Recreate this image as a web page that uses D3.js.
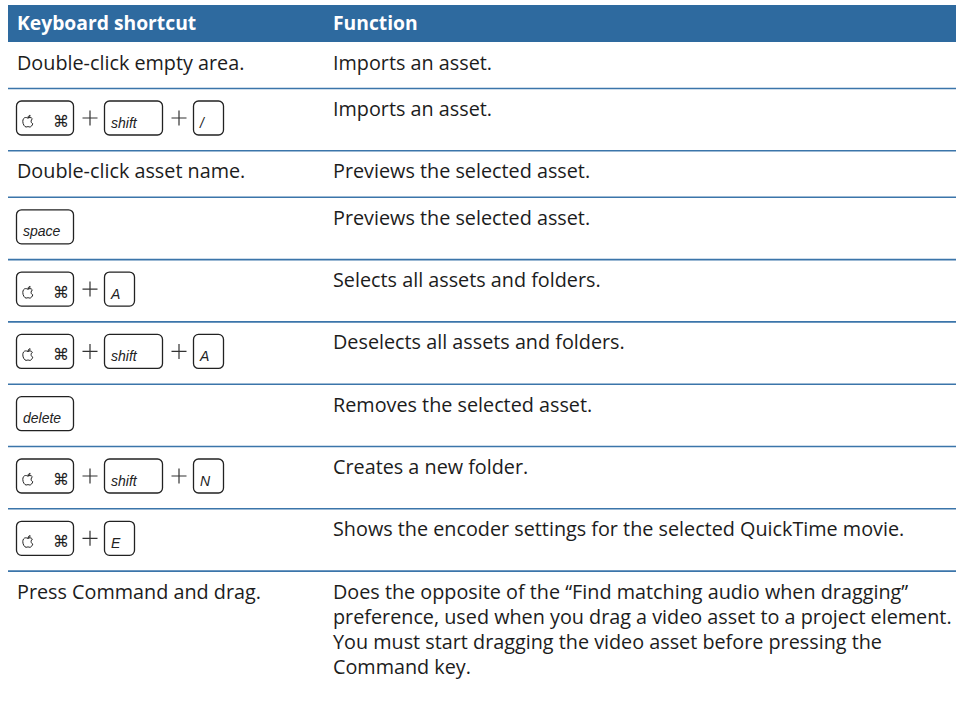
<!DOCTYPE html>
<html>
<head>
<meta charset="utf-8">
<script src="https://cdn.jsdelivr.net/npm/d3@7/dist/d3.min.js"></script>
<style>
  html, body { margin: 0; padding: 0; background: #ffffff; }
  svg { display: block; }
</style>
</head>
<body>
<svg id="chart" width="956" height="701"></svg>
<script>
// ---------- DATA ----------
const headers = ["Keyboard shortcut", "Function"];

// a string = plain text shortcut, an array = sequence of keys joined by "+"
const shortcuts = [
  "Double-click empty area.",
  ["cmd", "shift", "/"],
  "Double-click asset name.",
  ["space"],
  ["cmd", "A"],
  ["cmd", "shift", "A"],
  ["delete"],
  ["cmd", "shift", "N"],
  ["cmd", "E"],
  "Press Command and drag."
];

const functions = [
  ["Imports an asset."],
  ["Imports an asset."],
  ["Previews the selected asset."],
  ["Previews the selected asset."],
  ["Selects all assets and folders."],
  ["Deselects all assets and folders."],
  ["Removes the selected asset."],
  ["Creates a new folder."],
  ["Shows the encoder settings for the selected QuickTime movie."],
  ["Does the opposite of the \u201CFind matching audio when dragging\u201D",
   "preference, used when you drag a video asset to a project element.",
   "You must start dragging the video asset before pressing the",
   "Command key."]
];

// ---------- LAYOUT ----------
const W = 956;
const left = 8;
const headerTop = 5, headerH = 37;
const textRowH = 46.5, keyRowH = 62.3, lineH = 25;
const col1X = 17, col2X = 333;
const bodyFont = "'Open Sans', 'Noto Sans', sans-serif";
const keyFont = "'Liberation Sans', Arial, sans-serif";
const bodySize = 19.8;
const textBase = 27.5;
const blue = "#2e6a9f";
const lineBlue = "#3b75aa";
const textColor = "#1c1c1c";

const rows = shortcuts.map((s, i) => {
  const isKeys = Array.isArray(s);
  const n = functions[i].length;
  const h = (isKeys ? keyRowH : textRowH) + (n - 1) * lineH;
  return { shortcut: s, isKeys, func: functions[i], h };
});
const tops = [];
let acc = headerTop + headerH;
rows.forEach(r => { tops.push(acc); acc += r.h; });
rows.forEach((r, i) => r.top = tops[i]);

const svg = d3.select("#chart");

// x positions of the two columns
const colX = d3.scaleOrdinal().domain(headers).range([col1X, col2X]);

// header
svg.append("rect")
  .attr("x", left).attr("y", headerTop)
  .attr("width", W - left).attr("height", headerH)
  .attr("fill", blue);

svg.selectAll("text.head").data(headers).join("text")
  .attr("class", "head")
  .attr("x", d => colX(d))
  .attr("y", headerTop + 25)
  .attr("fill", "#ffffff")
  .attr("font-family", bodyFont)
  .attr("font-weight", 700)
  .attr("font-size", 19.3)
  .text(d => d);

// rows
const g = svg.selectAll("g.row").data(rows).join("g")
  .attr("class", "row")
  .attr("transform", d => `translate(0,${d.top})`);

// separator line at the top of each row except the first
g.filter((d, i) => i > 0).append("line")
  .attr("x1", left).attr("x2", W)
  .attr("y1", 0).attr("y2", 0)
  .attr("stroke", lineBlue).attr("stroke-width", 1.6);

// function text
g.each(function (d) {
  const t = d3.select(this).append("text")
    .attr("x", colX(headers[1]))
    .attr("y", textBase)
    .attr("fill", textColor)
    .attr("font-family", bodyFont)
    .attr("font-size", bodySize);
  t.selectAll("tspan").data(d.func).join("tspan")
    .attr("x", colX(headers[1]))
    .attr("dy", (l, j) => j === 0 ? 0 : lineH)
    .text(l => l);
});

// plain shortcut text
g.filter(d => !d.isKeys).append("text")
  .attr("x", colX(headers[0])).attr("y", textBase)
  .attr("fill", textColor)
  .attr("font-family", bodyFont)
  .attr("font-size", bodySize)
  .text(d => d.shortcut);

// key caps
const keyWidth = k => (k === "cmd" ? 58 : k === "shift" ? 59 : (k === "space" || k === "delete") ? 58 : 31);
const keyTop = 12, keyH = 35;
const applePath = "M5.5,3.2 C4.5,2.6 3.8,2.5 3.2,2.5 C1.3,2.5 0.3,4.3 0.3,6.4 C0.3,9.3 2.2,12 3.6,12 C4.4,12 4.8,11.6 5.5,11.6 C6.2,11.6 6.6,12 7.4,12 C8.6,12 9.8,10.3 10.3,8.8 C9.2,8.3 8.6,7.4 8.6,6.2 C8.6,5.1 9.2,4.3 9.9,3.8 C9.3,2.9 8.3,2.5 7.5,2.5 C6.7,2.5 6.2,2.8 5.5,3.2 Z M5.5,2.6 C5.5,1.4 6.4,0.4 7.6,0.3 C7.6,1.5 6.7,2.5 5.5,2.6 Z";

g.filter(d => d.isKeys).each(function (d) {
  const sel = d3.select(this);
  let x = 16;
  d.shortcut.forEach((k, idx) => {
    if (idx > 0) {
      const cx = x + 16, cy = keyTop + keyH / 2;
      sel.append("path")
        .attr("d", `M${cx - 7.5},${cy}H${cx + 7.5}M${cx},${cy - 7.5}V${cy + 7.5}`)
        .attr("stroke", "#333").attr("stroke-width", 1.2).attr("fill", "none");
      x += 30;
    }
    const w = keyWidth(k);
    sel.append("rect")
      .attr("x", x + 0.5).attr("y", keyTop + 0.5)
      .attr("width", w - 1).attr("height", keyH - 1)
      .attr("rx", 5)
      .attr("fill", "#fff").attr("stroke", "#222").attr("stroke-width", 1.3);
    if (k === "cmd") {
      sel.append("path")
        .attr("d", applePath)
        .attr("transform", `translate(${x + 6.5},${keyTop + 14.5})`)
        .attr("fill", "none").attr("stroke", "#222").attr("stroke-width", 1);
      sel.append("text")
        .attr("x", x + 37).attr("y", keyTop + 26)
        .attr("font-family", "'DejaVu Sans', sans-serif")
        .attr("font-size", 16).attr("fill", "#222")
        .text("\u2318");
    } else {
      sel.append("text")
        .attr("x", x + 7)
        .attr("y", keyTop + keyH - 8)
        .attr("font-family", keyFont)
        .attr("font-style", "italic")
        .attr("font-size", 14)
        .attr("fill", "#222")
        .text(k);
    }
    x += w;
  });
});
</script>
</body>
</html>
